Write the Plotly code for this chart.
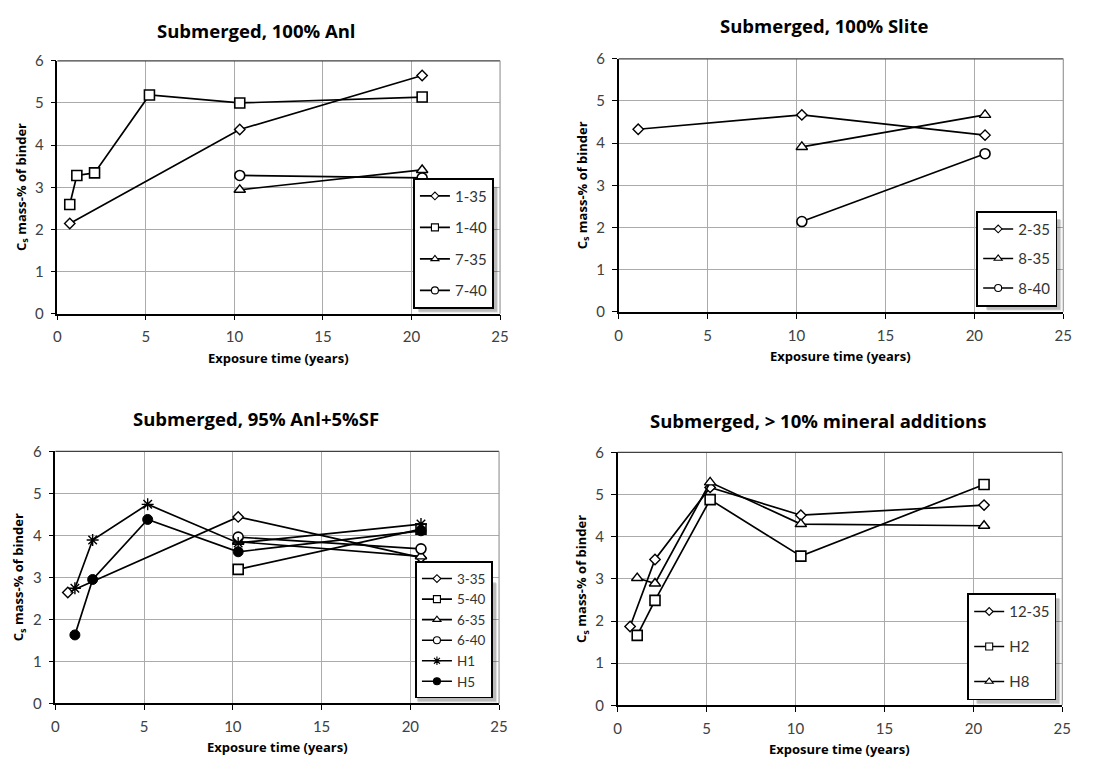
import plotly.graph_objects as go

# ---- data: chloride surface content C_s (mass-% of binder) vs exposure time (years)
# Panel A: Submerged, 100% Anl
a_135_t = [0.7, 10.3, 20.6]
a_135_c = [2.14, 4.37, 5.65]
a_140_t = [0.7, 1.1, 2.1, 5.2, 10.3, 20.6]
a_140_c = [2.59, 3.28, 3.34, 5.19, 5.00, 5.14]
a_735_t = [10.3, 20.6]
a_735_c = [2.94, 3.41]
a_740_t = [10.3, 20.6]
a_740_c = [3.28, 3.22]

# Panel B: Submerged, 100% Slite
b_235_t = [1.1, 10.3, 20.6]
b_235_c = [4.33, 4.67, 4.19]
b_835_t = [10.3, 20.6]
b_835_c = [3.91, 4.67]
b_840_t = [10.3, 20.6]
b_840_c = [2.14, 3.75]

# Panel C: Submerged, 95% Anl+5%SF
c_335_t = [0.7, 10.3, 20.6]
c_335_c = [2.64, 4.44, 3.47]
c_540_t = [10.3, 20.6]
c_540_c = [3.19, 4.15]
c_635_t = [10.3, 20.6]
c_635_c = [3.85, 3.50]
c_640_t = [10.3, 20.6]
c_640_c = [3.96, 3.68]
c_h1_t = [1.1, 2.1, 5.2, 10.3, 20.6]
c_h1_c = [2.74, 3.89, 4.74, 3.82, 4.27]
c_h5_t = [1.1, 2.1, 5.2, 10.3, 20.6]
c_h5_c = [1.63, 2.95, 4.38, 3.61, 4.11]

# Panel D: Submerged, > 10% mineral additions
d_1235_t = [0.7, 2.1, 5.2, 10.3, 20.6]
d_1235_c = [1.87, 3.46, 5.17, 4.51, 4.75]
d_h2_t = [1.1, 2.1, 5.2, 10.3, 20.6]
d_h2_c = [1.66, 2.49, 4.88, 3.54, 5.24]
d_h8_t = [1.1, 2.1, 5.2, 10.3, 20.6]
d_h8_c = [3.02, 2.89, 5.29, 4.30, 4.26]

panel_titles = ["Submerged, 100% Anl", "Submerged, 100% Slite",
                "Submerged, 95% Anl+5%SF", "Submerged, > 10% mineral additions"]
x_title = "Exposure time (years)"
y_title = "C<sub>s</sub> mass-% of binder"
x_ticks = [0, 5, 10, 15, 20, 25]
y_ticks = [0, 1, 2, 3, 4, 5, 6]

FONT = "Lato, 'Open Sans', sans-serif"
BOLD = "'Open Sans', Lato, sans-serif"
W, H = 1098, 769

# marker styles (white-filled so lines stop at the marker outline)
STY = {
    "diamond": dict(symbol="diamond", size=8, color="white", line=dict(color="black", width=1.4)),
    "square": dict(symbol="square", size=10, color="white", line=dict(color="black", width=1.6)),
    "triangle": dict(symbol="triangle-up", size=10, color="white", line=dict(color="black", width=1.4)),
    "circle": dict(symbol="circle", size=10, color="white", line=dict(color="black", width=1.6)),
    "star": dict(symbol="asterisk-open", size=10, color="black", line=dict(color="black", width=1.4)),
    "dot": dict(symbol="circle", size=10, color="black", line=dict(color="black", width=1)),
}
# smaller glyphs for the legend keys
KEY = {k: dict(v, size=max(v["size"] - 3, 6), line=dict(color="black", width=1.1))
       for k, v in STY.items()}

panels = [
    [("1-35", a_135_t, a_135_c, "diamond"), ("1-40", a_140_t, a_140_c, "square"),
     ("7-35", a_735_t, a_735_c, "triangle"), ("7-40", a_740_t, a_740_c, "circle")],
    [("2-35", b_235_t, b_235_c, "diamond"), ("8-35", b_835_t, b_835_c, "triangle"),
     ("8-40", b_840_t, b_840_c, "circle")],
    [("3-35", c_335_t, c_335_c, "diamond"), ("5-40", c_540_t, c_540_c, "square"),
     ("6-35", c_635_t, c_635_c, "triangle"), ("6-40", c_640_t, c_640_c, "circle"),
     ("H1", c_h1_t, c_h1_c, "star"), ("H5", c_h5_t, c_h5_c, "dot")],
    [("12-35", d_1235_t, d_1235_c, "diamond"), ("H2", d_h2_t, d_h2_c, "square"),
     ("H8", d_h8_t, d_h8_c, "triangle")],
]

# plot areas in pixels: (left, right, top, bottom)
boxes = [(54, 502, 52, 311), (622, 1072, 50, 309), (52, 501, 452, 710), (621, 1071, 453, 712)]
title_pos = [(256, 21), (830, 16), (255, 418), (824, 420)]
legend_font = [15, 15, 13.5, 15]
legend_gap = [9, 7, 0, 12.5]
legend_size = [(80, 128), (75, 93), (80, 122), (84, 108)]  # approx. box size for the drop shadow

fig = go.Figure()
layout = dict(width=W, height=H, margin=dict(l=0, r=0, t=0, b=0),
              paper_bgcolor="white", plot_bgcolor="white", showlegend=True,
              font=dict(family=FONT, color="#333333"))
annotations = []
shapes = []

for i, (series, box) in enumerate(zip(panels, boxes)):
    n = i + 1
    xa = "xaxis" if n == 1 else f"xaxis{n}"
    ya = "yaxis" if n == 1 else f"yaxis{n}"
    xr = "x" if n == 1 else f"x{n}"
    yr = "y" if n == 1 else f"y{n}"
    lg = "legend" if n == 1 else f"legend{n}"
    l, r, t, b = box
    for name, tx, cy, sty in series:
        fig.add_trace(go.Scatter(
            x=tx, y=cy, name=name, mode="lines+markers",
            line=dict(color="black", width=1.7), marker=STY[sty],
            xaxis=xr, yaxis=yr, showlegend=False, legendgroup=f"{lg}-{name}",
        ))
        # legend key entry
        fig.add_trace(go.Scatter(
            x=[None], y=[None], name=name, mode="lines+markers",
            line=dict(color="black", width=1.6), marker=KEY[sty],
            xaxis=xr, yaxis=yr, legend=lg, legendgroup=f"{lg}-{name}",
            hoverinfo="skip",
        ))
    axis_common = dict(showgrid=True, gridcolor="#ababab", gridwidth=1,
                       showline=True, linecolor="black", linewidth=1.5, mirror=False,
                       ticks="outside", ticklen=5, tickcolor="black", tickwidth=1,
                       ticklabelstandoff=4,
                       tickfont=dict(size=15, color="#404040", family=FONT),
                       zeroline=False, fixedrange=True)
    layout[xa] = dict(domain=[l / W, r / W], range=[0, 25], tickvals=x_ticks,
                      anchor=yr, **axis_common)
    layout[ya] = dict(domain=[(H - b) / H, (H - t) / H], range=[0, 6], tickvals=y_ticks,
                      anchor=xr, **axis_common)
    # top border (dark) and right border (grey)
    shapes.append(dict(type="line", xref=f"{xr} domain", yref=f"{yr} domain",
                       x0=0, x1=1, y0=1, y1=1, line=dict(color="#404040", width=1.2)))
    shapes.append(dict(type="line", xref=f"{xr} domain", yref=f"{yr} domain",
                       x0=1, x1=1, y0=0, y1=1, line=dict(color="#9a9a9a", width=1.2)))
    lx, ly = r - 6, b - 5
    lw, lh = legend_size[i]
    # soft drop shadow behind the legend box
    for off, alpha in ((4, 0.10), (3, 0.18)):
        shapes.append(dict(type="rect", xref="paper", yref="paper", layer="above",
                           x0=(lx - lw + off) / W, x1=(lx + off) / W,
                           y0=(H - ly - off) / H, y1=(H - ly + lh - off) / H,
                           line=dict(width=0), fillcolor=f"rgba(0,0,0,{alpha})"))
    layout[lg] = dict(x=lx / W, y=(H - ly) / H, xanchor="right", yanchor="bottom",
                      bgcolor="white", bordercolor="black", borderwidth=1.8,
                      font=dict(size=legend_font[i], color="#333333", family=FONT),
                      tracegroupgap=legend_gap[i], itemwidth=30)
    tx_, ty_ = title_pos[i]
    annotations.append(dict(text=f"<b>{panel_titles[i]}</b>", x=tx_ / W, y=(H - ty_) / H,
                            xref="paper", yref="paper", showarrow=False,
                            xanchor="center", yanchor="middle",
                            font=dict(size=18.5, color="black", family=BOLD)))
    annotations.append(dict(text=f"<b>{x_title}</b>", x=(l + r) / 2 / W, y=(H - (b + 45)) / H,
                            xref="paper", yref="paper", showarrow=False,
                            xanchor="center", yanchor="middle",
                            font=dict(size=13, color="black", family=BOLD)))
    annotations.append(dict(text=f"<b>{y_title}</b>", x=(l - 36) / W, y=(H - (t + b) / 2) / H,
                            xref="paper", yref="paper", showarrow=False, textangle=-90,
                            xanchor="center", yanchor="middle",
                            font=dict(size=13, color="black", family=BOLD)))

layout["annotations"] = annotations
layout["shapes"] = shapes
fig.update_layout(**layout)
fig.write_html("out.html")
